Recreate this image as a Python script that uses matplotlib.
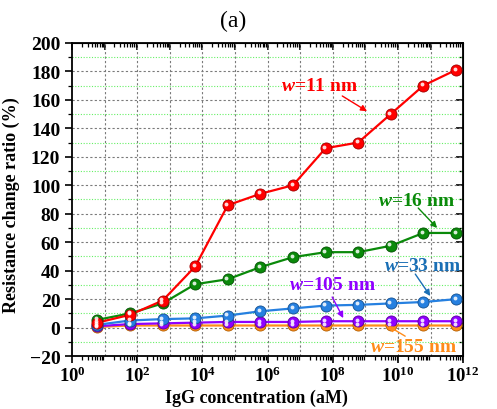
"""Resistance change ratio vs IgG concentration for several wire widths."""

import matplotlib
matplotlib.use("Agg")
import matplotlib.pyplot as plt
import matplotlib.transforms as mtransforms
from matplotlib.ticker import LogLocator, MultipleLocator, NullFormatter

plt.rcParams['font.family'] = ['Liberation Serif', 'DejaVu Serif']
plt.rcParams['mathtext.fontset'] = 'custom'
plt.rcParams['mathtext.rm'] = 'Liberation Serif:bold'
plt.rcParams['mathtext.it'] = 'Liberation Serif:italic:bold'
plt.rcParams['mathtext.bf'] = 'Liberation Serif:bold'

###################################################################################################
###################################################################################################

conc = [6e0, 6e1, 6e2, 6e3, 6e4, 6e5, 6e6, 6e7, 6e8, 6e9, 6e10, 6e11]

w11 = [3.5, 9, 19, 43, 86, 94, 100, 126, 130, 150, 170, 181]
w16 = [5.5, 10, 17, 30.5, 34, 42.5, 49.5, 53, 53, 57.5, 66.5, 66.5]
w33 = [2, 5, 6, 6.5, 8.5, 11.5, 13.5, 15.5, 16, 17, 18, 20]
w105 = [1, 2.5, 3, 3.5, 4, 4, 4, 4.5, 4.5, 4.5, 4.5, 4.5]
w155 = [0.5, 1.5, 1.5, 1.5, 1.5, 1.5, 1.5, 1.5, 1.5, 1.5, 1.5, 1.5]

series = [
    (w155, '#ff8c1a', '#b35f00'),
    (w105, '#8f00ff', '#5a00a0'),
    (w33, '#2680e0', '#14508f'),
    (w16, '#0a8a0a', '#045004'),
    (w11, '#ff0000', '#a00000'),
]

# label text, colour, text position, arrow start, arrow tip
labels = [
    ('11', '#ff0000', (10**7.58, 170), (10**8.29, 162.7), (10**9.05, 152)),
    ('16', '#0a8a0a', (10**10.56, 89.5), (10**10.62, 84), (10**11.2, 70)),
    ('33', '#1a6fb5', (10**10.74, 43.3), (10**10.53, 37.6), (10**10.99, 22.2)),
    ('105', '#8f00ff', (10**8.0, 30.6), (10**7.98, 21.5), (10**8.32, 6.7)),
    ('155', '#ff8c1a', (10**10.47, -13), (10**10.22, -6), (10**9.7, 1.1)),
]

fig = plt.figure(figsize=(4.97, 4.10), dpi=100)
ax = fig.add_axes([0.145, 0.129, 0.787, 0.764])

hl = mtransforms.offset_copy(ax.transData, fig=fig, x=-1.0, y=1.0, units='points')

for vals, col, dark in series:
    ax.plot(conc, vals, '-', color=col, lw=1.6, zorder=3)
    ax.plot(conc, vals, 'o', ms=8, mfc=col, mec=dark, mew=0.6, zorder=4)
    ax.plot(conc, vals, 'o', ms=2.8, mfc='white', mec='none', alpha=0.85,
            transform=hl, zorder=5)

for txt, col, xy_text, xy_start, xy_tip in labels:
    ax.text(xy_text[0], xy_text[1], r'$\mathit{w}$=' + txt + ' nm', color=col,
            fontsize=14, fontweight='bold', ha='center', va='center', zorder=6)
    ax.annotate('', xy=xy_tip, xytext=xy_start,
                arrowprops=dict(arrowstyle='-|>', color=col, lw=1.0,
                                mutation_scale=9, shrinkA=0, shrinkB=0),
                zorder=6)

ax.set_xscale('log')
ax.set_xlim(1, 1e12)
ax.set_ylim(-20, 200)
ax.set_xticks([10**k for k in range(0, 13, 2)])
ax.xaxis.set_minor_locator(LogLocator(base=10, subs=range(2, 10), numticks=30))
ax.xaxis.set_minor_formatter(NullFormatter())
ax.set_xticklabels([r'$\mathbf{10^{%d}}$' % k for k in range(0, 13, 2)])
ax.yaxis.set_major_locator(MultipleLocator(20))
ax.yaxis.set_minor_locator(MultipleLocator(10))

# grid: gray dashes at decades and every 20, green dots between
for k in range(1, 12):
    ax.axvline(10**k, color='#7a7a7a', ls=(0, (2, 2)), lw=0.8, zorder=1)
for yv in range(0, 200, 20):
    ax.axhline(yv, color='#7a7a7a', ls=(0, (2, 2)), lw=0.8, zorder=1)
for yv in range(-10, 200, 20):
    ax.axhline(yv, color='#66f066', ls=(0, (1, 1.5)), lw=0.8, zorder=1)

ax.tick_params(which='both', direction='out')
ax.tick_params(axis='x', labelsize=13.5, pad=2)
ax.tick_params(axis='y', labelsize=14)
ax.tick_params(which='major', length=5, width=1.2)
ax.tick_params(which='minor', length=3, width=0.9)
for t in ax.get_yticklabels():
    t.set_fontweight('bold')
for sp in ax.spines.values():
    sp.set_linewidth(1.3)

# ticks on top and right point inward
ax2 = ax.secondary_xaxis('top')
ax2.set_xticks([10**k for k in range(0, 13)])
ax2.xaxis.set_minor_locator(LogLocator(base=10, subs=range(2, 10), numticks=30))
ax2.xaxis.set_minor_formatter(NullFormatter())
ax2.set_xticklabels([])
ax2.tick_params(which='both', direction='in', labeltop=False)
ax2.tick_params(which='major', length=5, width=1.2)
ax2.tick_params(which='minor', length=3, width=0.9)
ax3 = ax.secondary_yaxis('right')
ax3.yaxis.set_major_locator(MultipleLocator(20))
ax3.yaxis.set_minor_locator(MultipleLocator(10))
ax3.tick_params(which='both', direction='in', labelright=False)
ax3.tick_params(which='major', length=5, width=1.2)
ax3.tick_params(which='minor', length=3, width=0.9)

ax.set_xlabel('IgG concentration (aM)', fontsize=13, fontweight='bold')
ax.set_ylabel('Resistance change ratio (%)', fontsize=13, fontweight='bold')
ax.xaxis.set_label_coords(0.472, -0.104)
ax.yaxis.set_label_coords(-0.133, 0.485)
fig.text(0.469, 0.947, '(a)', fontsize=17, ha='center', va='center')

fig.savefig('out.png', dpi=100)
